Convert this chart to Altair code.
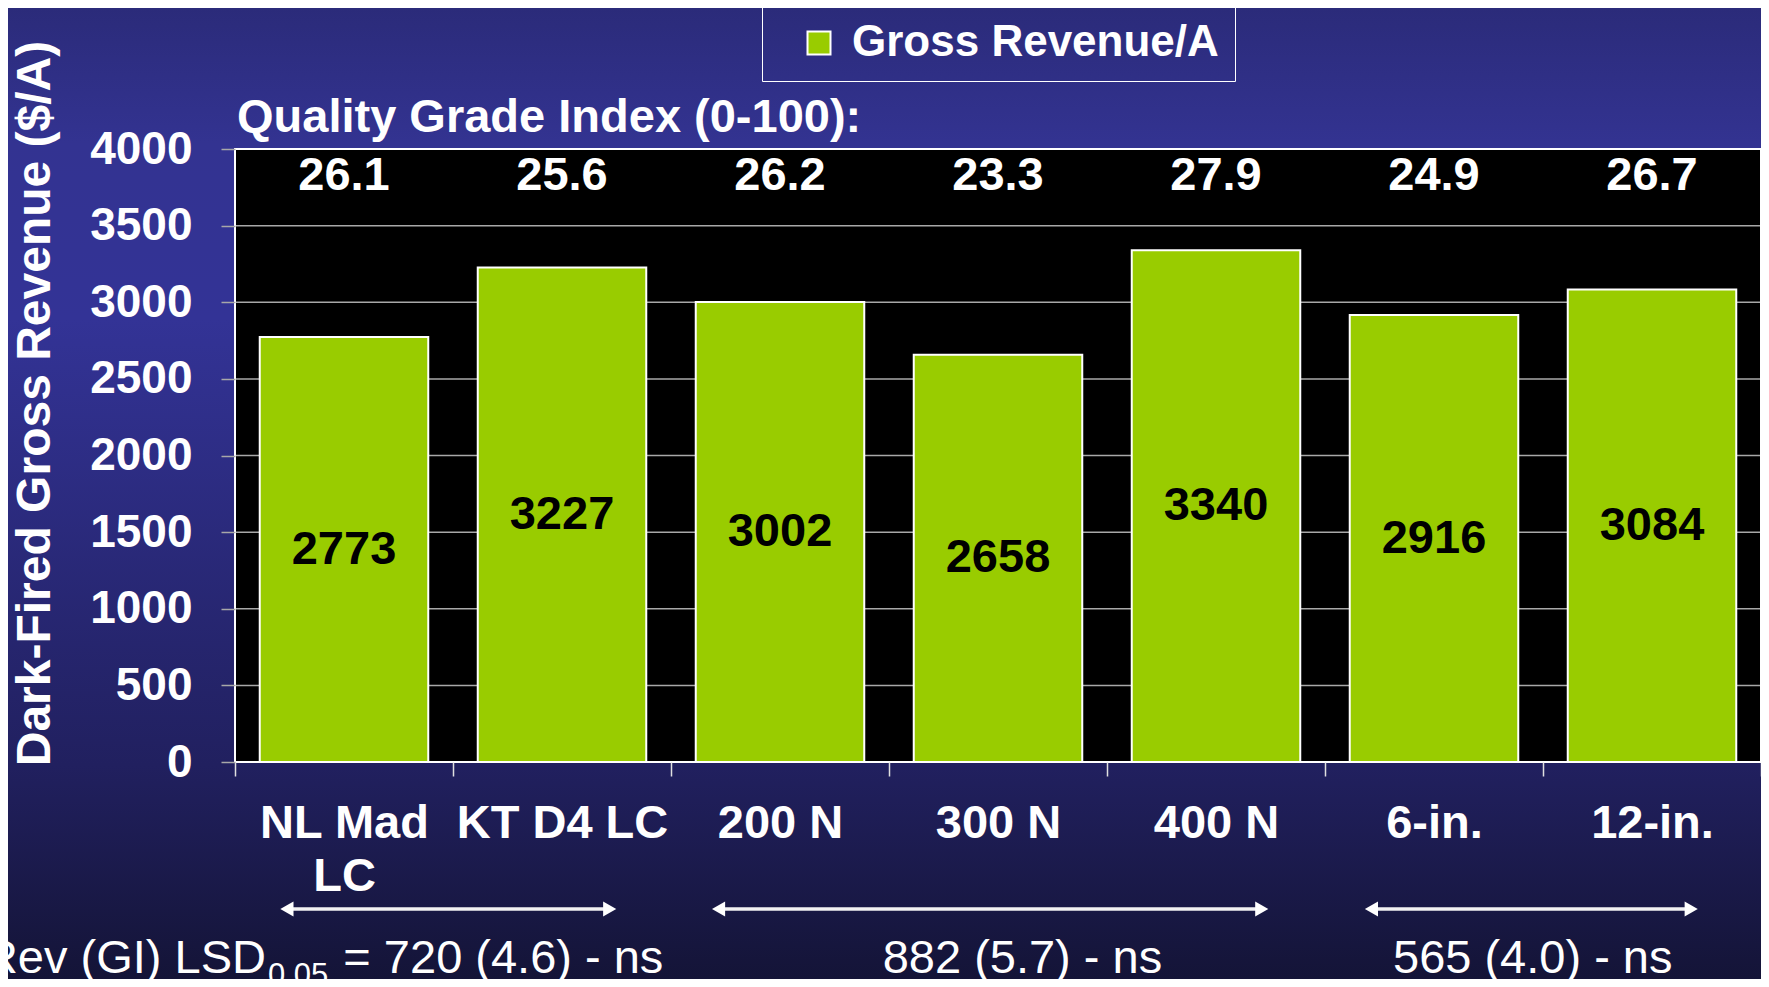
import altair as alt
import pandas as pd

# ---------------- data ----------------
categories = ["NL Mad\nLC", "KT D4 LC", "200 N", "300 N", "400 N", "6-in.", "12-in."]
gross_revenue = [2773, 3227, 3002, 2658, 3340, 2916, 3084]
grade_index = [26.1, 25.6, 26.2, 23.3, 27.9, 24.9, 26.7]
y_ticks = [0, 500, 1000, 1500, 2000, 2500, 3000, 3500, 4000]
series_name = "Gross Revenue/A"
y_title = "Dark-Fired Gross Revenue ($/A)"
grade_title = "Quality Grade Index (0-100):"
lsd_prefix = "Gross Rev (GI) LSD"
lsd_sub = "0.05"
lsd_values = ["= 720 (4.6) - ns", "882 (5.7) - ns", "565 (4.0) - ns"]

# ---------------- layout ----------------
FONT = "Liberation Sans"
W, H = 1526, 613
PAD_L, PAD_T, PAD_B = 227, 141, 217
STEP = W / len(categories)
ARROW_Y = 760
TEXT_Y = 824
# arrow spans in band-step units
arrow_spans = [(0.206, 1.751), (2.186, 4.742), (5.181, 6.712)]

df = pd.DataFrame({
    "category": categories,
    "revenue": gross_revenue,
    "grade": grade_index,
    "series": [series_name] * len(categories),
})
one = pd.DataFrame({"k": [0]})

xscale = alt.Scale(paddingInner=0, paddingOuter=0)
yscale = alt.Scale(domain=[0, 4000], nice=False)

xaxis = alt.Axis(
    title=None, labelAngle=0, labelFont=FONT, labelFontSize=47, labelFontWeight="bold",
    labelColor="white", labelExpr="split(datum.label, '\\n')", labelLineHeight=53,
    labelPadding=24, labelLimit=600, tickBand="extent", tickSize=14, tickWidth=1.5,
    tickColor="#e0e0e0", domain=False, zindex=1,
)
yaxis = alt.Axis(
    values=y_ticks, format="d", grid=False, domain=False,
    tickSize=14, tickWidth=1.5, tickColor="#a8a8a8",
    labelFont=FONT, labelFontSize=46, labelFontWeight="bold", labelColor="white",
    labelPadding=29,
    title=y_title, titleFont=FONT, titleFontSize=48, titleFontWeight="bold",
    titleColor="white", titleAngle=270, titleAlign="center", titleBaseline="middle",
    titleX=-200, titleY=254, titleLimit=900, zindex=1,
)

gradient = alt.LinearGradient(
    gradient="linear", x1=0, x2=0, y1=0, y2=1,
    stops=[
        alt.GradientStop(color="#2b2b7a", offset=0),
        alt.GradientStop(color="#333391", offset=0.14),
        alt.GradientStop(color="#333396", offset=0.32),
        alt.GradientStop(color="#21205f", offset=0.78),
        alt.GradientStop(color="#141437", offset=1),
    ],
)

bg = alt.Chart(one).mark_rect(fill=gradient).encode(
    x=alt.value(-PAD_L), x2=alt.value(W), y=alt.value(-PAD_T), y2=alt.value(H + PAD_B)
)
plot_bg = alt.Chart(one).mark_rect(fill="black").encode(
    x=alt.value(0), x2=alt.value(W), y=alt.value(0), y2=alt.value(H)
)
grid = alt.Chart(pd.DataFrame({"tick": y_ticks})).mark_rule(
    color="#a8a8a8", strokeWidth=1.5
).encode(y=alt.Y("tick:Q", scale=yscale), x=alt.value(0), x2=alt.value(W))
border = alt.Chart(one).mark_rect(fill="black", fillOpacity=0, stroke="white", strokeWidth=2).encode(
    x=alt.value(0), x2=alt.value(W), y=alt.value(0), y2=alt.value(H)
)

bars = alt.Chart(df).mark_bar(
    stroke="white", strokeWidth=2, width=alt.RelativeBandSize(0.773)
).encode(
    x=alt.X("category:N", sort=categories, scale=xscale, axis=xaxis),
    y=alt.Y("revenue:Q", scale=yscale, axis=yaxis),
    color=alt.Color(
        "series:N",
        scale=alt.Scale(domain=[series_name], range=["#99cc00"]),
        legend=alt.Legend(
            title=None, orient="none", legendX=527, legendY=-144,
            labelFont=FONT, labelFontSize=44, labelFontWeight="bold", labelColor="white",
            labelExpr="datum.label + '\u00a0'", labelOffset=11, labelLimit=800,
            symbolType="square", symbolSize=529, symbolStrokeColor="white",
            symbolStrokeWidth=2, symbolOpacity=1, symbolOffset=19,
            strokeColor="white", padding=16,
        ),
    ),
)

bar_labels = alt.Chart(df).transform_calculate(mid="datum.revenue / 2").mark_text(
    font=FONT, fontSize=47, fontWeight="bold", color="black", baseline="middle"
).encode(
    x=alt.X("category:N", sort=categories),
    y=alt.Y("mid:Q"),
    text=alt.Text("revenue:Q", format="d"),
)

grade_labels = alt.Chart(df).mark_text(
    font=FONT, fontSize=47, fontWeight="bold", color="white", baseline="middle"
).encode(
    x=alt.X("category:N", sort=categories),
    y=alt.datum(3825),
    text=alt.Text("grade:Q", format=".1f"),
)

grade_head = alt.Chart(pd.DataFrame({"t": [grade_title]})).mark_text(
    font=FONT, fontSize=47, fontWeight="bold", color="white", align="left", baseline="alphabetic"
).encode(x=alt.value(2), y=alt.value(-17), text="t:N")

layers = [bg, plot_bg, grid, border, bars, bar_labels, grade_labels, grade_head]

# arrows
for a, b in arrow_spans:
    xa, xb = a * STEP, b * STEP
    layers.append(
        alt.Chart(one).mark_rule(color="#f2f2f2", strokeWidth=3.5).encode(
            x=alt.value(xa + 8), x2=alt.value(xb - 8), y=alt.value(ARROW_Y)
        )
    )
    layers.append(
        alt.Chart(one).mark_point(shape="triangle-left", filled=True, color="white", opacity=1, size=230).encode(
            x=alt.value(xa + 7), y=alt.value(ARROW_Y)
        )
    )
    layers.append(
        alt.Chart(one).mark_point(shape="triangle-right", filled=True, color="white", opacity=1, size=230).encode(
            x=alt.value(xb - 7), y=alt.value(ARROW_Y)
        )
    )

# LSD annotation texts
def ann(text, x, y, size, align):
    return alt.Chart(pd.DataFrame({"t": [text]})).mark_text(
        font=FONT, fontSize=size, color="white", align=align, baseline="alphabetic"
    ).encode(x=alt.value(x), y=alt.value(y), text="t:N")

layers.append(ann(lsd_prefix, 0.142 * STEP, TEXT_Y, 47, "right"))
layers.append(ann(lsd_sub, 0.151 * STEP, TEXT_Y + 12, 31, "left"))
layers.append(ann(lsd_values[0], 0.497 * STEP, TEXT_Y, 47, "left"))
layers.append(ann(lsd_values[1], 3.612 * STEP, TEXT_Y, 47, "center"))
layers.append(ann(lsd_values[2], 5.953 * STEP, TEXT_Y, 47, "center"))

chart = alt.layer(*layers).properties(
    width=W, height=H,
    autosize=alt.AutoSizeParams(type="none"),
    padding={"left": PAD_L, "top": PAD_T, "right": 0, "bottom": PAD_B},
    background="#222266",
).configure_view(stroke=None).configure(font=FONT)

chart.save("out.html", embed_options={"renderer": "svg", "actions": False})
